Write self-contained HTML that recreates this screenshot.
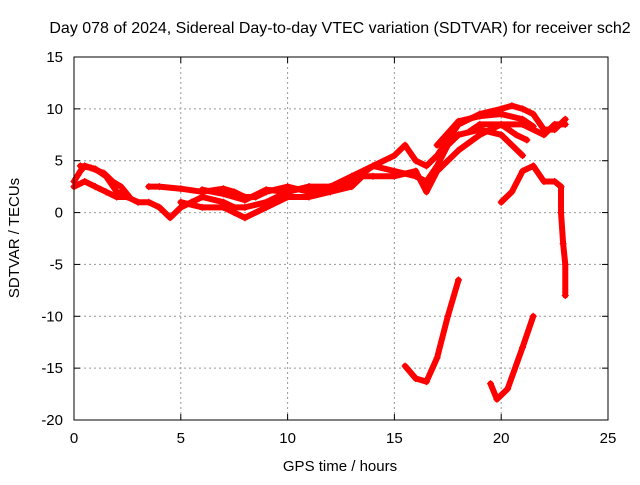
<!DOCTYPE html>
<html><head><meta charset="utf-8"><style>
body{margin:0;background:#fff}
svg text{font-family:"Liberation Sans",sans-serif;font-size:15px;fill:#000}
</style></head><body>
<svg id="chart" width="640" height="480" viewBox="0 0 640 480" xmlns="http://www.w3.org/2000/svg">
<rect width="640" height="480" fill="#fff"/>
<text x="340" y="33" text-anchor="middle" style="font-size:16px">Day 078 of 2024, Sidereal Day-to-day VTEC variation (SDTVAR) for receiver sch2</text>
<g id="grid"></g>
<g id="axes"></g>
<g id="series"></g>
<rect x="74" y="57" width="534" height="363" fill="none" stroke="#000" stroke-width="1"/>
<text x="340" y="471" text-anchor="middle">GPS time / hours</text>
<text transform="translate(19,238) rotate(-90)" text-anchor="middle">SDTVAR / TECUs</text>
</svg>
<script>
const xTicks=[0,5,10,15,20,25];
const yTicks=[15,10,5,0,-5,-10,-15,-20];
const trackA=[[0,3],[0.3,4],[0.5,4.5],[1,4.2],[1.5,3.5],[2,2],[2.5,1.5],[3,1],[3.5,1],[4,0.5],[4.5,-0.5],[5,0.5],[5.5,1],[6,1.5],[7,1],[7.5,0.5],[8,0.5],[9,1],[10,2],[11,2.5],[12,2.5],[13,3.5],[14,4.5],[15,5.5],[15.5,6.5],[16,5],[16.5,4.5],[17,5.5],[17.5,7],[18,8.5],[19,9.5],[20,10],[20.5,10.3],[21,10],[21.5,9.5],[22,8],[22.5,8],[23,9]];
const trackB=[[0,2.5],[0.5,3],[1,2.5],[1.5,2],[2,1.5],[2.5,1.5]];
const trackB2=[[3.5,2.5],[4,2.5],[5,2.3],[6,2],[7,2.3],[7.5,2],[8,1.5],[8.5,1.5],[9,2],[10,2.5],[11,2],[12,2.5],[13,3],[14,4.5],[15,4],[16,3.5],[16.5,3],[17,4.5],[17.5,6.5],[18,7.5],[19,8],[20,7.5],[20.5,6.5],[21,5.5]];
const trackC=[[5,1],[6,0.5],[7,0.5],[7.5,0],[8,-0.5],[9,0.5],[10,1.5],[11,1.5],[12,2],[13,2.5],[13.5,3.5],[14,3.5],[15,3.5],[16,4],[16.5,2],[17,4],[18,6],[19,7.5],[20,8.5],[21,8.5],[22,7.5],[22.5,8.5],[23,8.5]];
const trackD=[[20,1],[20.5,2],[21,4],[21.5,4.5],[22,3],[22.5,3],[22.8,2.5],[22.8,0],[22.9,-3],[23,-5],[23,-8]];
const trackE=[[15.5,-14.8],[16,-16],[16.5,-16.3],[17,-14],[17.5,-10],[18,-6.5]];
const trackF=[[19.5,-16.5],[19.8,-18],[20.3,-17],[21,-13],[21.5,-10]];
const trackG=[[17,6.5],[18,8.8],[19,9.3],[20,9.5],[21,9],[21.5,8.3]];
const trackH=[[18.5,7.8],[19,8.5],[20,8.5],[20.7,7.5],[21.2,7]];
const trackI=[[0.3,4.5],[0.8,4.3],[1.4,3.8],[1.8,3],[2.2,2.5],[2.6,1.5]];
const trackJ=[[6,2.2],[7,1.8],[8,1.2],[9,2.2],[10,2],[11,2.5]];
const tracks=[trackA,trackB,trackB2,trackC,trackD,trackE,trackF,trackG,trackH,trackI,trackJ];
const NS="http://www.w3.org/2000/svg";
const X=v=>74+v*(534/25);
const Y=v=>57+(15-v)*(363/35);
const grid=document.getElementById('grid'),axes=document.getElementById('axes'),ser=document.getElementById('series');
function mk(t,a,p){const e=document.createElementNS(NS,t);for(const k in a)e.setAttribute(k,a[k]);p.appendChild(e);return e;}
xTicks.forEach(t=>{
 if(t>0&&t<25){const g=mk('line',{x1:X(t),x2:X(t),y1:57,y2:420,stroke:'#999','stroke-dasharray':'2,3'},grid);
 
 }
 mk('line',{x1:X(t),x2:X(t),y1:420,y2:414,stroke:'#000'},axes);
 mk('line',{x1:X(t),x2:X(t),y1:57,y2:63,stroke:'#000'},axes);
 const l=mk('text',{x:X(t),y:443,'text-anchor':'middle'},axes);l.textContent=t;
 
 
});
yTicks.forEach(t=>{
 if(t<15&&t>-20){const g=mk('line',{x1:74,x2:608,y1:Y(t),y2:Y(t),stroke:'#999','stroke-dasharray':'2,3'},grid);
 
 }
 mk('line',{x1:74,x2:80,y1:Y(t),y2:Y(t),stroke:'#000'},axes);
 mk('line',{x1:602,x2:608,y1:Y(t),y2:Y(t),stroke:'#000'},axes);
 const l=mk('text',{x:63,y:Y(t)+5,'text-anchor':'end'},axes);l.textContent=t;
 
 
});
tracks.forEach(tr=>{
 const p=mk('polyline',{points:tr.map(d=>X(d[0])+','+Y(d[1])).join(' '),fill:'none',stroke:'#f00','stroke-width':6,'stroke-linejoin':'round','stroke-linecap':'round'},ser);
 
 
 tr.forEach(d=>{
  const m=mk('path',{d:`M${X(d[0])-3.5},${Y(d[1])}h7M${X(d[0])},${Y(d[1])-3.5}v7`,stroke:'#f00','stroke-width':1.2},ser);
  
  
 });
});
</script>
</body></html>
